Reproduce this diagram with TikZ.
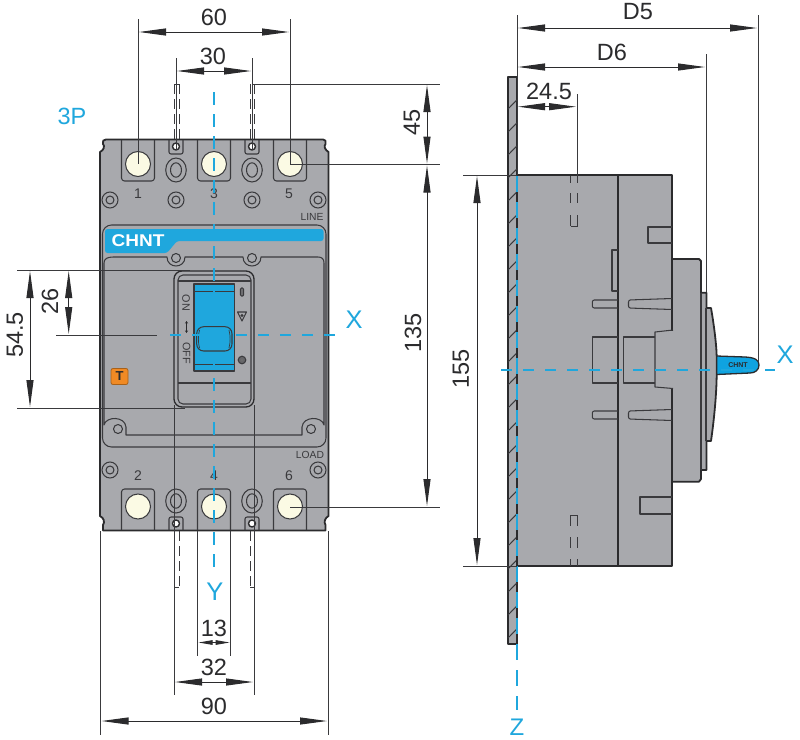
\documentclass[tikz,border=0pt]{standalone}
\usepackage{fontspec}
\setmainfont{Liberation Sans}
\usetikzlibrary{arrows.meta}
\definecolor{bodyg}{HTML}{A8A9AD}
\definecolor{ink}{HTML}{2B2B2D}
\definecolor{soft}{HTML}{3A3A3D}
\definecolor{cyanb}{HTML}{1FA7DD}
\definecolor{handleb}{HTML}{0FA3E0}
\definecolor{ivory}{HTML}{FBFAE4}
\definecolor{orng}{HTML}{F08A24}
\tikzset{
  outline/.style={draw=soft,line width=1.05pt,line join=round},
  heavy/.style={draw=ink,line width=1.8pt,line join=round},
  thinl/.style={draw=soft,line width=1pt},
  dimline/.style={draw=ink,line width=1pt,{Triangle[length=27pt,width=7pt]}-{Triangle[length=27pt,width=7pt]}},
  dimtiny/.style={draw=ink,line width=1pt,{Triangle[length=14pt,width=4.5pt]}-{Triangle[length=14pt,width=4.5pt]}},
  dimtext/.style={font=\fontsize{23.5}{24}\selectfont,text=ink,inner sep=0pt},
  axis/.style={draw=cyanb,line width=2.4pt,dash pattern=on 11pt off 11pt},
  axislabel/.style={font=\fontsize{25.5}{26}\selectfont,text=cyanb,inner sep=0pt},
  numtext/.style={font=\fontsize{14}{14}\selectfont,text=soft,inner sep=0pt},
  small/.style={font=\fontsize{10.3}{10}\selectfont,text=soft,inner sep=0pt},
  hid/.style={draw=soft,line width=0.9pt,dash pattern=on 10pt off 5pt},
}
\newcommand{\screwmark}[2]{\draw[outline,fill=bodyg] (#1,#2) circle[radius=8];\draw[outline] (#1,#2) circle[radius=4];}
\newcommand{\ovalmark}[2]{\draw[outline] (#1,#2) ellipse[x radius=10.3,y radius=12];\draw[outline] (#1,#2) ellipse[x radius=5.5,y radius=7.2];}
\begin{document}
\begin{tikzpicture}[x=1pt,y=-1pt]
\useasboundingbox (0,0) rectangle (800,739);
\fill[white] (0,0) rectangle (800,739);

% ---------- FRONT VIEW ----------
\path[heavy,fill=bodyg] (106,139.5) -- (323,139.5) .. controls (325.5,139.5) and (326,141) .. (325.5,144)
  .. controls (323.5,146) and (325,150) .. (328.5,152) -- (328.5,516)
  .. controls (325,518) and (323.5,522) .. (325.5,525) -- (325.5,530.5) -- (103,530.5) -- (103,525)
  .. controls (105,522) and (104,518) .. (100,516) -- (100,152)
  .. controls (104,150) and (105,146) .. (103,144) .. controls (102.5,141) and (103,139.5) .. (106,139.5) -- cycle;

% terminals
\foreach \cx in {138,214,290}{
  \draw[outline,rounded corners=3pt] (\cx-16.5,140) -- (\cx-16.5,181) -- (\cx+16.5,181) -- (\cx+16.5,140);
  \draw[outline,fill=ivory] (\cx,164) circle[radius=12.5];
  \draw[outline,rounded corners=3pt] (\cx-16.5,530) -- (\cx-16.5,489) -- (\cx+16.5,489) -- (\cx+16.5,530);
  \draw[outline,fill=ivory] (\cx,506.5) circle[radius=12.5];
}
% slots and ovals
\foreach \cx in {176,252}{
  \draw[outline,rounded corners=2pt] (\cx-7,140) -- (\cx-7,154) -- (\cx+7,154) -- (\cx+7,140);
  \draw[heavy,line width=1.4pt,fill=white] (\cx,146.5) circle[radius=3.5];
  \ovalmark{\cx}{170}
  \ovalmark{\cx}{501}
  \draw[outline,rounded corners=2pt] (\cx-7,530) -- (\cx-7,517) -- (\cx+7,517) -- (\cx+7,530);
  \draw[heavy,line width=1.4pt,fill=white] (\cx,523.5) circle[radius=3.5];
}
% frame and band
\draw[outline,rounded corners=9pt] (102.5,225) rectangle (326,447);
\fill[cyanb,rounded corners=2.5pt] (105,229) -- (323.5,229) -- (323.5,241) -- (177,241) -- (167,253) -- (105,253) -- cycle;
\node[inner sep=0pt,text=white,font=\bfseries\fontsize{17}{17}\selectfont,xscale=1.12] (brand) at (138,240.5) {CHNT};

% panel
\draw[outline] (113,257) -- (167,257) .. controls (167,269) and (185,269) .. (185,257) -- (243,257)
  .. controls (243,269) and (261,269) .. (261,257) -- (318,257)
  .. controls (322,257) and (324,259) .. (324,263) -- (324,425)
  .. controls (322,416) and (303,416) .. (302,427) -- (302,435) -- (126,435) -- (126,427)
  .. controls (125,416) and (106,416) .. (104,425) -- (104,263) .. controls (104,259) and (107,257) .. (113,257) -- cycle;
\foreach \cx in {176,252}{\draw[outline] (\cx,258) circle[radius=4.5];}
\foreach \cx in {118,311}{\draw[outline,fill=bodyg] (\cx,429) circle[radius=4.5];}
\screwmark{110}{200}\screwmark{176}{200}\screwmark{252}{200}\screwmark{318}{200}
\screwmark{110}{470}\screwmark{318}{470}

% numbers
\node[numtext] (n1) at (138,194) {1};
\node[numtext] (n3) at (214,194) {3};
\node[numtext] (n5) at (289,194) {5};
\node[numtext] (n2) at (138,476) {2};
\node[numtext] (n4) at (214,476) {4};
\node[numtext] (n6) at (289,476) {6};
\node[small] (line) at (312,216.5) {LINE};
\node[small] (load) at (310,455) {LOAD};

% handle
\draw[heavy,line width=1.3pt,rounded corners=8pt] (174,271) rectangle (254,407);
\draw[outline,rounded corners=5pt] (178,275) rectangle (251,404);
\draw[outline] (178,281) -- (251,281);
\draw[outline] (178,383) -- (251,383);
\draw[outline,fill=cyanb] (194,284) rectangle (234.5,371);
\draw[outline] (194,291.5) -- (234.5,291.5);
\draw[outline] (194,364.5) -- (234.5,364.5);
\draw[outline,rounded corners=7pt] (196.7,326.7) rectangle (232,351);
\draw[outline,line width=0.7pt] (199.5,330) .. controls (198,336) and (198,342) .. (199.5,348);
\draw[outline,line width=0.7pt] (229,330) .. controls (230.5,336) and (230.5,342) .. (229,348);
\node[small,rotate=-90,font=\fontsize{10.8}{10}\selectfont] (on) at (186,303) {ON};
\node[small,rotate=-90,font=\fontsize{10.8}{10}\selectfont] (off) at (186.5,353) {OFF};
\draw[ink,line width=1.2pt,{Stealth[length=2.5pt,width=3pt]}-{Stealth[length=2.5pt,width=3pt]}] (186.5,321) -- (186.5,333);
\draw[outline,fill=bodyg!70!black,rounded corners=1pt] (240.5,288) rectangle (243.5,296);
\draw[outline,fill=bodyg] (237.5,312) -- (246.5,312) -- (242,321) -- cycle;
\fill[soft] (242,315.5) circle[radius=1.6];
\draw[outline,fill=bodyg!60!black] (242,360) circle[radius=3.8];
\fill[ink!70] (242,360) circle[radius=1.5];
% T badge
\draw[draw=orng!70!black,line width=0.8pt,fill=orng,rounded corners=2pt] (111,368.5) rectangle (128,384.5);
\node[inner sep=0pt,text=ink,font=\bfseries\fontsize{13}{13}\selectfont] (tbadge) at (119.5,376.5) {T};

% studs
\foreach \cx in {174,179,250,254.5}{
  \draw[hid] (\cx,84) -- (\cx,140);
  \draw[hid] (\cx,531) -- (\cx,587);
}
\draw[thinl] (174,587) -- (179,587);
\draw[thinl] (250,587) -- (254.5,587);
\draw[thinl] (174,84) -- (179,84);

% ---------- SIDE VIEW ----------
\draw[heavy,fill=bodyg] (508,77) rectangle (516.8,644);
\foreach \yy in {100,123,...,640}{\draw[thinl] (508,\yy+9) -- (516.8,\yy);}
\draw[heavy,fill=bodyg] (517,175) -- (672,175) -- (672,566) -- (517,566) -- cycle;
\path[heavy,fill=bodyg] (672,259) -- (699,259) -- (701,261) -- (701,292.7) -- (706.5,292.7) -- (706.5,308) -- (711,308)
  .. controls (714,325) and (716.5,345) .. (716.7,357) -- (716.7,374) .. controls (716.5,395) and (714,420) .. (711,441)
  -- (706.5,441) -- (706.5,470) -- (701,470) -- (701,479) -- (699,481.7) -- (672,481.7) -- cycle;
\draw[outline] (701,292.7) -- (701,470);
\draw[outline] (706,308) -- (706,441);
\draw[heavy,line width=1.3pt] (618,175) -- (618,566);
\draw[outline] (672,243) -- (648,243) -- (648,227) -- (672,227);
\draw[outline] (672,497) -- (640,497) -- (640,514) -- (672,514);
\draw[outline] (618,250) -- (612,250) -- (612,291) -- (618,291);
% recess
\fill[bodyg] (674,331) -- (655,332) -- (655,387) -- (674,388) -- cycle;
\draw[outline] (673,330) -- (655,332) -- (655,387) -- (673,388.5);
\draw[outline] (618,337) -- (592.3,337) -- (592.3,383) -- (618,383);
\draw[outline] (655,337) -- (623.3,337) -- (623.3,383) -- (655,383);
% tabs
\foreach \yy in {304,415}{
  \draw[outline,rounded corners=2pt] (618,\yy-4) -- (592.3,\yy-4) -- (592.3,\yy+4) -- (618,\yy+4);
  \draw[outline,rounded corners=2pt] (672,\yy-5.5) -- (628.5,\yy-4) -- (628.5,\yy+4) -- (672,\yy+5.5);
}
% hidden studs
\foreach \cx in {570.7,577.7}{
  \foreach \ya/\yb in {176/183,193/203,215/226,515/526,537/548,559/566}{
    \draw[thinl] (\cx,\ya) -- (\cx,\yb);
  }
}
\draw[thinl] (570.7,226) -- (577.7,226);
\draw[thinl] (570.7,515) -- (577.7,515);
% lever
\draw[heavy,line width=1.3pt,fill=handleb] (716.7,356) -- (745,357) .. controls (755,357.5) and (759,360) .. (759,365)
  .. controls (759,370) and (755,373) .. (750,373) -- (716.7,374.5) -- cycle;
\node[inner sep=0pt,text=ink,font=\bfseries\fontsize{7}{7}\selectfont] (minibrand) at (738,365.5) {CHNT};

% ---------- AXES ----------
\draw[axis,dash pattern=on 13pt off 9pt] (214,92) -- (214,568);
\draw[axis] (170,335) -- (337,335);
\draw[axis] (501,370) -- (775,370);
\draw[axis,dash pattern=on 16pt off 10pt] (517,176) -- (517,710);
\node[axislabel] (labelY) at (215,592) {Y};
\node[axislabel] (labelXa) at (354,320) {X};
\node[axislabel] (labelXb) at (785,355) {X};
\node[axislabel,font=\fontsize{24}{24}\selectfont] (labelZ) at (517,727) {Z};
\node[axislabel,font=\fontsize{23.5}{24}\selectfont] (label3P) at (72,116) {3P};

% ---------- DIMENSIONS ----------
\foreach \xa/\ya/\xb/\yb in {
  138/19/138/164, 290/19/290/164, 176/58/176/150, 252/58/252/150,
  290/164/440/164, 252/84/440/84, 290/507/440/507,
  463/175/517/175, 463/566/517/566,
  17/270/190/270, 56/335/157/335, 17/408/185/408,
  100.5/531/100.5/735, 328/531/328/735, 174/405/174/695, 254/405/254/695,
  197.5/531/197.5/656, 230.7/531/230.7/656,
  517/15/517/175, 758/15/758/362, 706/54/706/292, 577/94/577/183}{
  \draw[thinl] (\xa,\ya) -- (\xb,\yb);
}
\draw[dimline] (139,32) -- (289,32);
\node[dimtext] (d60) at (214,17) {60};
\draw[dimline] (177,71) -- (251,71);
\node[dimtext] (d30) at (213,56) {30};
\draw[dimline] (427,85) -- (427,163.5);
\node[dimtext,rotate=90] (d45) at (412,122) {45};
\draw[dimline] (427,165.5) -- (427,506);
\node[dimtext,rotate=90] (d135) at (413,333) {135};
\draw[dimline] (477,176) -- (477,565);
\node[dimtext,rotate=90] (d155) at (461,369) {155};
\draw[dimline] (30,271) -- (30,407);
\node[dimtext,rotate=90] (d545) at (15,335) {54.5};
\draw[dimline] (68.7,271) -- (68.7,334);
\node[dimtext,rotate=90] (d26) at (50,301) {26};
\draw[dimtiny] (198.5,642.5) -- (229.7,642.5);
\node[dimtext] (d13) at (214,628) {13};
\draw[dimline] (175,682) -- (253,682);
\node[dimtext] (d32) at (214,667) {32};
\draw[dimline] (101.5,721) -- (327,721);
\node[dimtext] (d90) at (214,706.5) {90};
\draw[dimline] (518,28) -- (757,28);
\node[dimtext] (d5) at (638,12) {D5};
\draw[dimline] (518,67) -- (705,67);
\node[dimtext] (d6) at (612,52) {D6};
\draw[dimline] (518,106.7) -- (576,106.7);
\node[dimtext] (d245) at (549,91) {24.5};
\end{tikzpicture}
\end{document}
